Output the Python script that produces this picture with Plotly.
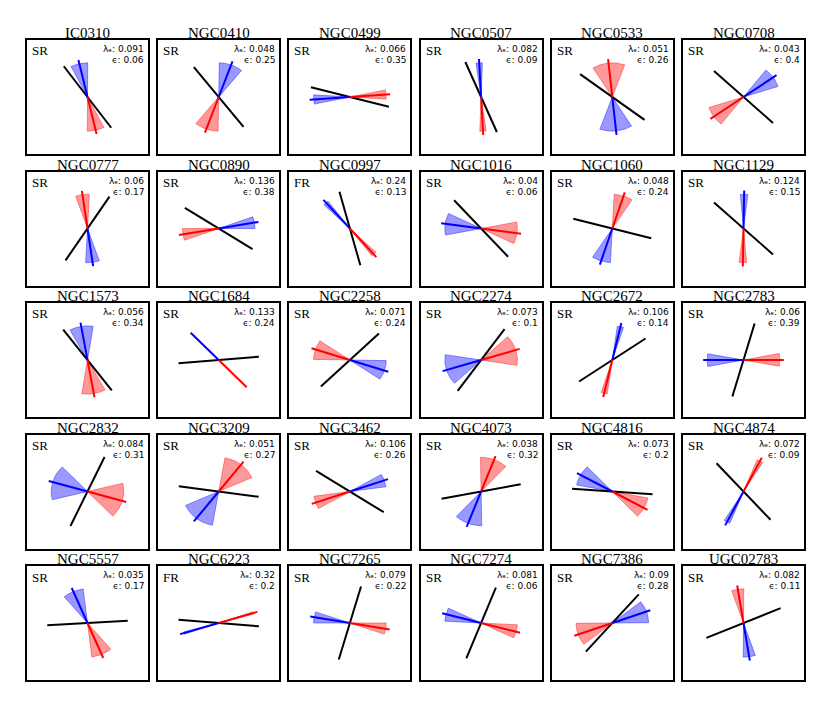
import numpy as np
import plotly.graph_objects as go

names = ["IC0310", "NGC0410", "NGC0499", "NGC0507", "NGC0533", "NGC0708",
         "NGC0777", "NGC0890", "NGC0997", "NGC1016", "NGC1060", "NGC1129",
         "NGC1573", "NGC1684", "NGC2258", "NGC2274", "NGC2672", "NGC2783",
         "NGC2832", "NGC3209", "NGC3462", "NGC4073", "NGC4816", "NGC4874",
         "NGC5557", "NGC6223", "NGC7265", "NGC7274", "NGC7386", "UGC02783"]
rot_class = ["SR", "SR", "SR", "SR", "SR", "SR",
             "SR", "SR", "FR", "SR", "SR", "SR",
             "SR", "SR", "SR", "SR", "SR", "SR",
             "SR", "SR", "SR", "SR", "SR", "SR",
             "SR", "FR", "SR", "SR", "SR", "SR"]
lambda_e = ["0.091", "0.048", "0.066", "0.082", "0.051", "0.043",
            "0.06", "0.136", "0.24", "0.04", "0.048", "0.124",
            "0.056", "0.133", "0.071", "0.073", "0.106", "0.06",
            "0.084", "0.051", "0.106", "0.038", "0.073", "0.072",
            "0.035", "0.32", "0.079", "0.081", "0.09", "0.082"]
ellip = ["0.06", "0.25", "0.35", "0.09", "0.26", "0.4",
         "0.17", "0.38", "0.13", "0.06", "0.24", "0.15",
         "0.34", "0.24", "0.24", "0.1", "0.14", "0.39",
         "0.31", "0.27", "0.26", "0.32", "0.2", "0.09",
         "0.17", "0.2", "0.22", "0.06", "0.28", "0.11"]
# position angles in degrees, measured counter-clockwise from "up"
pa_phot = [36, 38, 75, 23, 53, 47,
           -33, 57, 15, 42, 75, 47,
           37, 95, -46, -35.5, -55.5, -16,
           -25, 82, 57, 101, 86, 42,
           93.5, 85, -16, -21.5, -41, -67]
# kinematic PA of the blue (approaching) side
pa_kin = [13, -20, 94, 3, 186, -55,
          188, -80, 41, 82, 162, -1,
          10, 44, 252, 107, -13, 90,
          74, 142, -71, 159, 61, 153,
          23, 107, 80, 75, -70.5, 189]
pa_kin_err = [14, 19, 8, 5, 26, 17,
              11, 10, 5, 19, 15, 6,
              19, 0, 17, 26, 5, 11,
              30, 28, 11, 22, 18, 5,
              17, 2, 10, 12, 19, 10]

# page has an 8px body margin, so the figure is slightly smaller than the window
PAGE_MARGIN = 8
W, H = 830 - 2 * PAGE_MARGIN, 703 - 2 * PAGE_MARGIN
ncol = 6
col_left = 27.0 - PAGE_MARGIN
col_pitch = 131.2
box_w = 121.0
row_top = 40.0 - PAGE_MARGIN
row_pitch = 131.5
box_h = 114.0

R_LINE = 1.0
R_WEDGE = 0.9


def direction(pa_deg, r):
    t = np.deg2rad(pa_deg)
    return -np.sin(t) * r, np.cos(t) * r


def wedge(pa_deg, err_deg, r):
    angs = np.linspace(pa_deg - err_deg, pa_deg + err_deg, 40)
    xs, ys = direction(angs, r)
    return np.concatenate([[0], xs, [0]]), np.concatenate([[0], ys, [0]])


fig = go.Figure()
layout = dict(width=W, height=H, margin=dict(l=0, r=0, t=0, b=0),
              paper_bgcolor="white", plot_bgcolor="white",
              showlegend=False, annotations=[])

for i, name in enumerate(names):
    r, c = divmod(i, ncol)
    k = i + 1
    xa = "x" if k == 1 else f"x{k}"
    ya = "y" if k == 1 else f"y{k}"
    xname = "xaxis" if k == 1 else f"xaxis{k}"
    yname = "yaxis" if k == 1 else f"yaxis{k}"
    x0 = col_left + c * col_pitch
    y0 = row_top + r * row_pitch
    ax_common = dict(range=[-1.5, 1.5], showgrid=False, zeroline=False,
                     showticklabels=False, ticks="", showline=True,
                     mirror=True, linecolor="black", linewidth=2,
                     fixedrange=True)
    layout[xname] = dict(domain=[x0 / W, (x0 + box_w) / W], anchor=ya, **ax_common)
    layout[yname] = dict(domain=[1 - (y0 + box_h) / H, 1 - y0 / H], anchor=xa, **ax_common)

    pk, err = pa_kin[i], pa_kin_err[i]
    # wedges
    if err > 0:
        for ang, col in [(pk, "0,0,255"), (pk + 180, "255,0,0")]:
            wx, wy = wedge(ang, err, R_WEDGE)
            fig.add_trace(go.Scatter(x=wx, y=wy, mode="lines", fill="toself",
                                     fillcolor=f"rgba({col},0.4)",
                                     line=dict(color=f"rgba({col},0.4)", width=1),
                                     xaxis=xa, yaxis=ya, hoverinfo="skip"))
    # photometric axis
    px, py = direction(pa_phot[i], R_LINE)
    fig.add_trace(go.Scatter(x=[px, -px], y=[py, -py], mode="lines",
                             line=dict(color="black", width=2),
                             xaxis=xa, yaxis=ya, hoverinfo="skip"))
    # kinematic axis
    bx, by = direction(pk, R_LINE)
    fig.add_trace(go.Scatter(x=[0, bx], y=[0, by], mode="lines",
                             line=dict(color="blue", width=2),
                             xaxis=xa, yaxis=ya, hoverinfo="skip"))
    fig.add_trace(go.Scatter(x=[0, -bx], y=[0, -by], mode="lines",
                             line=dict(color="red", width=2),
                             xaxis=xa, yaxis=ya, hoverinfo="skip"))

    xd = f"{xa} domain"
    yd = f"{ya} domain"
    layout["annotations"] += [
        dict(text=name, x=0.5, y=1, xref=xd, yref=yd, xanchor="center",
             yanchor="middle", yshift=7, showarrow=False,
             font=dict(family="Liberation Serif", size=15, color="black")),
        dict(text=rot_class[i], x=0, y=1, xref=xd, yref=yd, xanchor="left",
             yanchor="middle", xshift=3, yshift=-11, showarrow=False,
             font=dict(family="Liberation Serif", size=13, color="black")),
        dict(text=f"λₑ: {lambda_e[i]}",
             x=1, y=1, xref=xd, yref=yd, xanchor="right", yanchor="middle",
             xshift=-2, yshift=-9, showarrow=False,
             font=dict(family="DejaVu Sans", size=9, color="black")),
        dict(text=f"ϵ: {ellip[i]}",
             x=1, y=1, xref=xd, yref=yd, xanchor="right", yanchor="middle",
             xshift=-2, yshift=-20, showarrow=False,
             font=dict(family="DejaVu Sans", size=9, color="black")),
    ]

fig.update_layout(**layout)
fig.write_html("out.html")
